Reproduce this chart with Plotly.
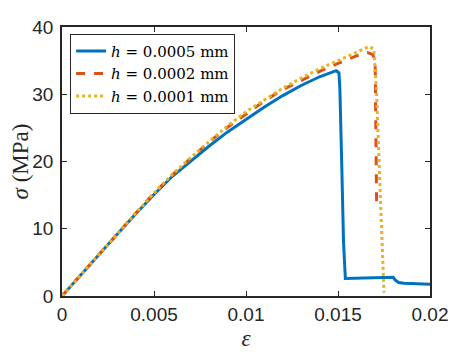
import plotly.graph_objects as go

# Data
eps_a = [0, 0.001, 0.002, 0.003, 0.004, 0.005, 0.006, 0.007, 0.008, 0.009, 0.010, 0.011,
         0.012, 0.013, 0.014, 0.0146, 0.0149, 0.01505, 0.0151, 0.0152, 0.0153, 0.0154,
         0.0160, 0.0170, 0.0178, 0.0180, 0.0181, 0.0183, 0.0186, 0.0200]
sig_a = [0, 3.1, 6.2, 9.2, 12.2, 15.1, 17.8, 20.1, 22.3, 24.4, 26.3, 28.1,
         29.8, 31.3, 32.6, 33.2, 33.5, 33.2, 31.0, 20.0, 8.0, 2.6,
         2.65, 2.75, 2.85, 2.8, 2.4, 2.0, 1.9, 1.75]

eps_b = [0, 0.001, 0.002, 0.003, 0.004, 0.005, 0.006, 0.007, 0.008, 0.009, 0.010, 0.011,
         0.012, 0.013, 0.014, 0.015, 0.016, 0.0166, 0.0169, 0.01702, 0.01705, 0.0171]
sig_b = [0, 3.1, 6.2, 9.3, 12.3, 15.3, 18.0, 20.5, 22.9, 25.1, 27.1, 29.0,
         30.7, 32.1, 33.4, 34.6, 35.7, 36.2, 35.9, 34.5, 25.0, 13.3]

eps_c = [0, 0.001, 0.002, 0.003, 0.004, 0.005, 0.006, 0.007, 0.008, 0.009, 0.010, 0.011,
         0.012, 0.013, 0.014, 0.015, 0.016, 0.0167, 0.01695, 0.0171, 0.0173, 0.0175]
sig_c = [0, 3.1, 6.2, 9.3, 12.3, 15.3, 18.1, 20.6, 23.0, 25.3, 27.4, 29.2,
         30.9, 32.4, 33.8, 35.0, 36.3, 37.1, 36.7, 30.0, 15.0, 0.5]

names = ["<i>h</i> = 0.0005 mm", "<i>h</i> = 0.0002 mm", "<i>h</i> = 0.0001 mm"]
x_ticks = [0, 0.005, 0.01, 0.015, 0.02]
x_tick_text = ["0", "0.005", "0.01", "0.015", "0.02"]
y_ticks = [0, 10, 20, 30, 40]

fig = go.Figure()
fig.add_trace(go.Scatter(x=eps_a, y=sig_a, mode="lines", name=names[0],
                         line=dict(color="#0072BD", width=3)))
fig.add_trace(go.Scatter(x=eps_b, y=sig_b, mode="lines", name=names[1],
                         line=dict(color="#D95319", width=3, dash="dash")))
fig.add_trace(go.Scatter(x=eps_c, y=sig_c, mode="lines", name=names[2],
                         line=dict(color="#EDB120", width=3, dash="dot")))

axis_common = dict(showline=True, linecolor="#262626", linewidth=1.5, mirror="allticks",
                   ticks="inside", ticklen=5, tickcolor="#262626", tickwidth=1.2,
                   showgrid=False, zeroline=False, automargin=False,
                   tickfont=dict(family="Liberation Sans, Arial", size=19, color="#262626"))

fig.update_layout(
    width=466, height=347,
    margin=dict(l=54, r=44, t=19, b=59),
    paper_bgcolor="white", plot_bgcolor="white",
    xaxis=dict(range=[0, 0.02], tickvals=x_ticks, ticktext=x_tick_text,
               title=dict(text="<i>ε</i>", font=dict(family="Liberation Serif", size=23, color="#262626"),
                          standoff=6),
               **axis_common),
    yaxis=dict(range=[0, 40], tickvals=y_ticks, ticklabelstandoff=3,
               title=dict(text="<i>σ</i> (MPa)", font=dict(family="Liberation Serif", size=23, color="#262626"),
                          standoff=2),
               **axis_common),
    legend=dict(x=0.022, y=0.975, xanchor="left", yanchor="top",
                bgcolor="white", bordercolor="#262626", borderwidth=1,
                font=dict(family="DejaVu Serif", size=15, color="black"),
                tracegroupgap=0, itemwidth=30),
    showlegend=True,
)

fig.write_html("out.html")
